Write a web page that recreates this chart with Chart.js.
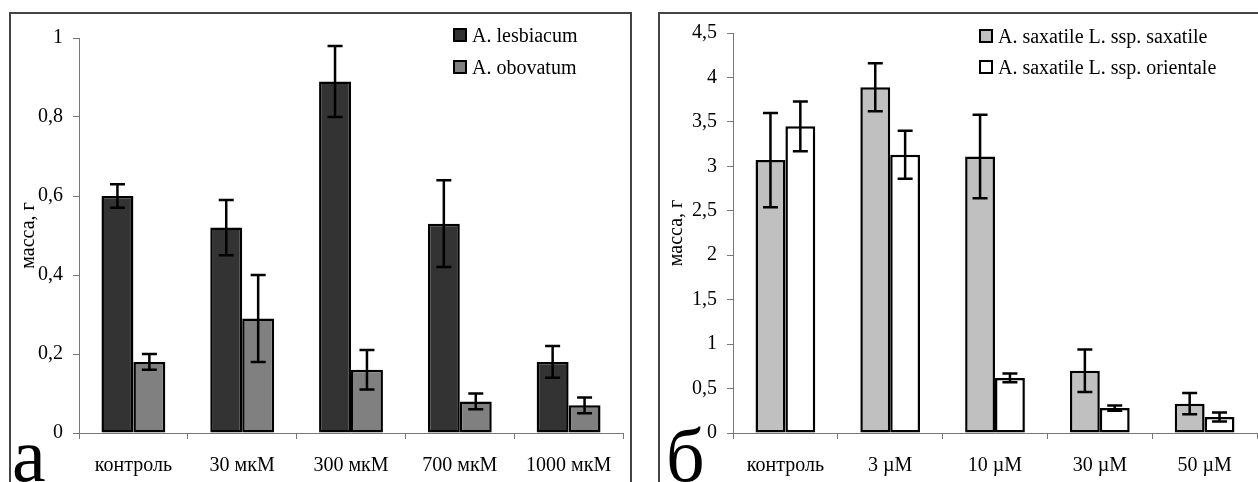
<!DOCTYPE html>
<html>
<head>
<meta charset="utf-8">
<script src="https://cdn.jsdelivr.net/npm/chart.js@4"></script>
<style>
  html, body { margin: 0; padding: 0; background: #fff; }
  body { width: 1258px; height: 482px; overflow: hidden; position: relative; }
  .frame { position: absolute; border: 2px solid #444; box-sizing: border-box; }
  canvas { position: absolute; top: 0; }
</style>
</head>
<body>
<div class="frame" style="left:9px;top:12px;width:623px;height:520px"></div>
<div class="frame" style="left:658px;top:12px;width:640px;height:520px"></div>
<canvas id="chartA" style="left:0" width="640" height="482"></canvas>
<canvas id="chartB" style="left:640px" width="618" height="482"></canvas>
<script>
// panel а
const categoriesA = ['контроль', '30 мкМ', '300 мкМ', '700 мкМ', '1000 мкМ'];
const lesbiacum = [0.60, 0.52, 0.89, 0.53, 0.18];
const lesbiacumErr = [0.03, 0.07, 0.09, 0.11, 0.04];
const obovatum = [0.18, 0.29, 0.16, 0.08, 0.07];
const obovatumErr = [0.02, 0.11, 0.05, 0.02, 0.02];

// panel б
const categoriesB = ['контроль', '3 µM', '10 µM', '30 µM', '50 µM'];
const saxatile = [3.07, 3.89, 3.11, 0.70, 0.33];
const saxatileErr = [0.53, 0.27, 0.47, 0.24, 0.12];
const orientale = [3.45, 3.13, 0.62, 0.28, 0.18];
const orientaleErr = [0.28, 0.27, 0.05, 0.03, 0.05];

const SERIF = "'Liberation Serif', 'Times New Roman', serif";
Chart.defaults.font.family = SERIF;
Chart.defaults.font.size = 20;
Chart.defaults.color = '#000';

// whiskers drawn on top of bars
const errorBars = {
  id: 'errorBars',
  afterDatasetsDraw(chart) {
    const ctx = chart.ctx, y = chart.scales.y;
    chart.data.datasets.forEach((ds, i) => {
      chart.getDatasetMeta(i).data.forEach((bar, j) => {
        const v = ds.data[j], e = ds.errors[j];
        const top = y.getPixelForValue(v + e), bot = y.getPixelForValue(v - e);
        ctx.save();
        ctx.strokeStyle = '#000';
        ctx.lineWidth = 2.5;
        ctx.beginPath();
        ctx.moveTo(bar.x, top); ctx.lineTo(bar.x, bot);
        ctx.moveTo(bar.x - 7.5, top); ctx.lineTo(bar.x + 7.5, top);
        ctx.moveTo(bar.x - 7.5, bot); ctx.lineTo(bar.x + 7.5, bot);
        ctx.stroke();
        ctx.restore();
      });
    });
  }
};

// legend box + panel letter
const extras = {
  id: 'extras',
  afterDraw(chart, args, opts) {
    const ctx = chart.ctx;
    ctx.save();
    ctx.font = '20px ' + SERIF;
    ctx.textBaseline = 'alphabetic';
    chart.data.datasets.forEach((ds, i) => {
      const base = opts.baselines[i];
      ctx.fillStyle = ds.backgroundColor;
      ctx.fillRect(opts.legendX, base - 14, 14, 14);
      ctx.strokeStyle = '#000';
      ctx.lineWidth = 2;
      ctx.strokeRect(opts.legendX + 1, base - 13, 12, 12);
      ctx.fillStyle = '#000';
      ctx.fillText(ds.label, opts.legendX + 19, base);
    });
    ctx.font = '76px ' + SERIF;
    ctx.fillText(opts.letter, opts.letterX, 481);
    ctx.restore();
  }
};

function makeChart(id, labels, sets, yMax, step, yWidth, pad, titlePad, catPct, extraOpts) {
  return new Chart(document.getElementById(id), {
    type: 'bar',
    data: {
      labels: labels,
      datasets: sets.map(s => ({
        label: s.label,
        data: s.data,
        errors: s.err,
        backgroundColor: s.color,
        borderColor: '#000',
        borderWidth: 2.5,
        borderSkipped: false,
        barPercentage: 1,
        categoryPercentage: catPct
      }))
    },
    options: {
      responsive: false,
      animation: false,
      layout: { padding: pad },
      plugins: { legend: { display: false }, tooltip: { enabled: false }, extras: extraOpts },
      scales: {
        x: {
          grid: { offset: true, drawOnChartArea: false, tickLength: 6, color: '#777' },
          border: { color: '#777' },
          ticks: { padding: 15 },
          afterFit(s) { s.height = 49; }
        },
        y: {
          min: 0, max: yMax,
          grid: { drawOnChartArea: false, tickLength: 6, color: '#777' },
          border: { color: '#777' },
          ticks: {
            stepSize: step, padding: 10,
            callback: v => String(Math.round(v * 10) / 10).replace('.', ',')
          },
          title: { display: true, text: 'масса, г', padding: { top: titlePad, bottom: 0 } },
          afterFit(s) { s.width = yWidth; }
        }
      }
    },
    plugins: [errorBars, extras]
  });
}

makeChart('chartA', categoriesA, [
  { label: 'A. lesbiacum', data: lesbiacum, err: lesbiacumErr, color: '#333333' },
  { label: 'A. obovatum', data: obovatum, err: obovatumErr, color: '#808080' }
], 1, 0.2, 79, { top: 38, right: 17, bottom: 0, left: 0 }, 17, 0.587,
  { legendX: 453, baselines: [42, 74], letter: 'а', letterX: 12 });

makeChart('chartB', categoriesB, [
  { label: 'A. saxatile L. ssp. saxatile', data: saxatile, err: saxatileErr, color: '#c0c0c0' },
  { label: 'A. saxatile L. ssp. orientale', data: orientale, err: orientaleErr, color: '#ffffff' }
], 4.5, 0.5, 93, { top: 33, right: 1, bottom: 0, left: 0 }, 25, 0.57,
  { legendX: 339, baselines: [43, 74], letter: 'б', letterX: 26 });
</script>
</body>
</html>
